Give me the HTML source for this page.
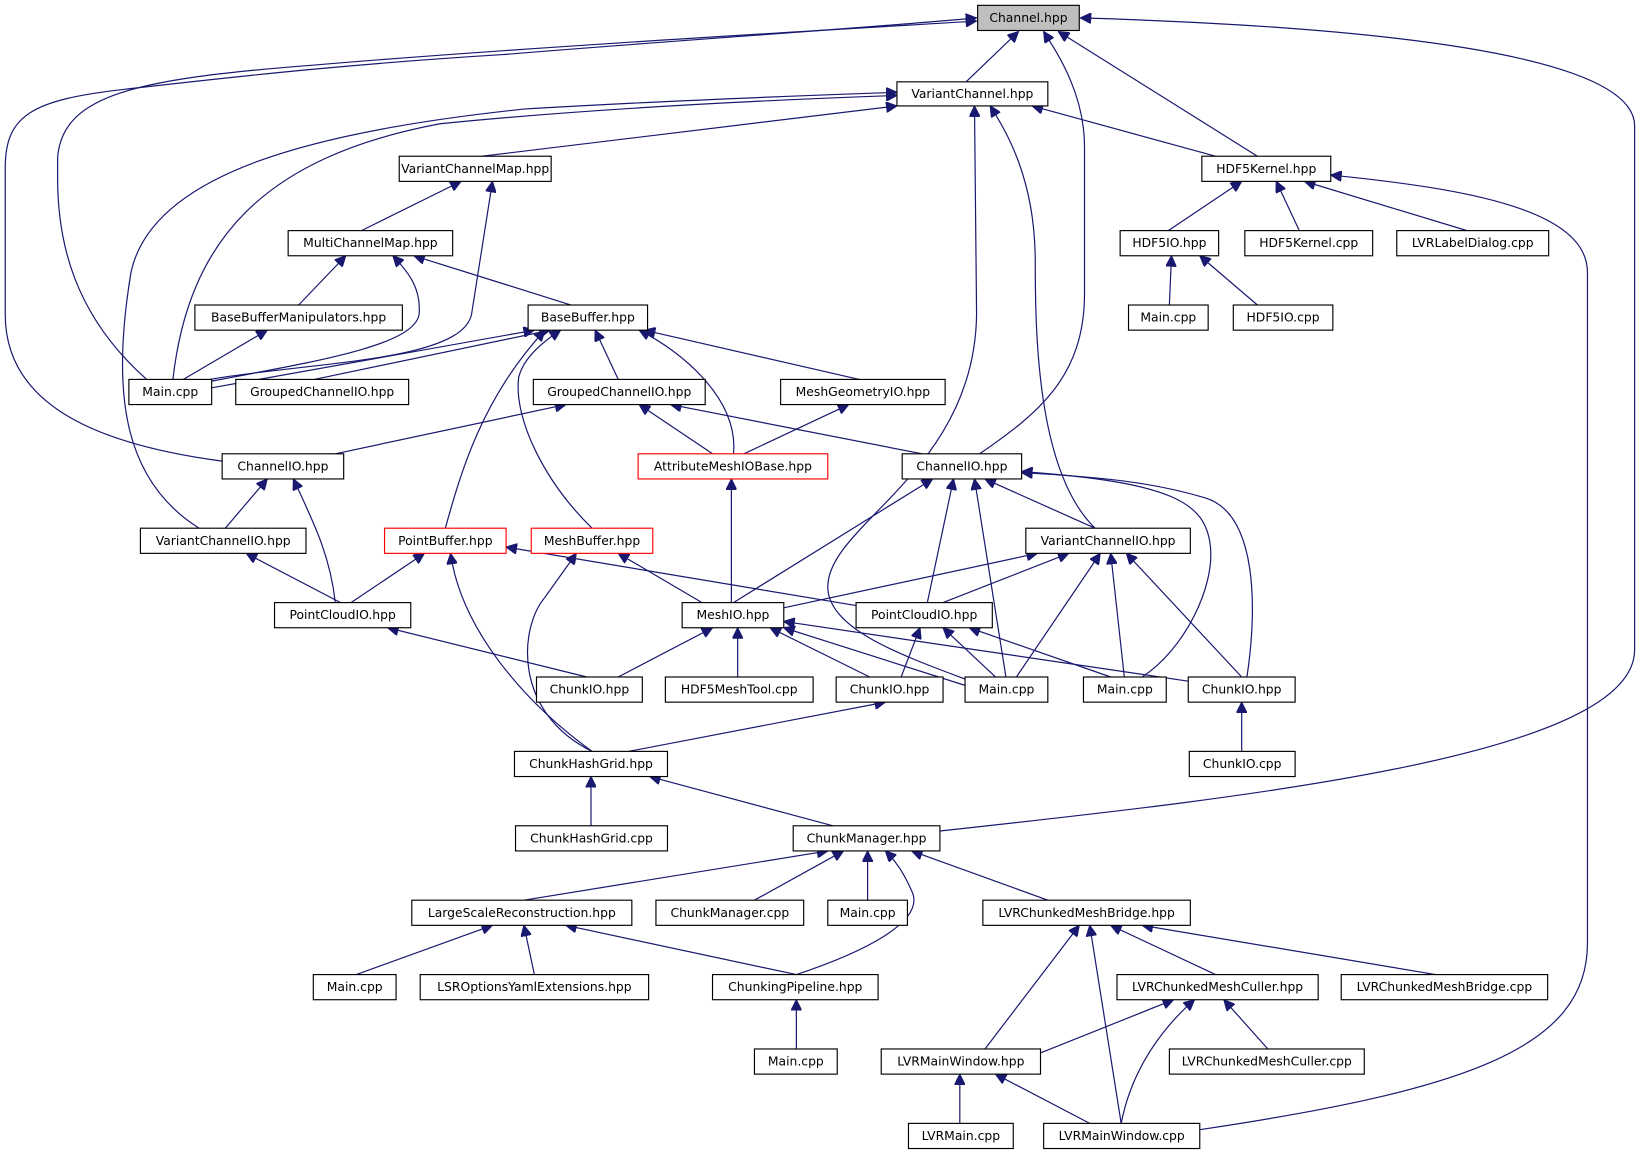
<!DOCTYPE html>
<html><head><meta charset="utf-8"><style>
html,body{margin:0;padding:0;background:#fff}
svg{display:block}
text{font-family:"DejaVu Sans","Liberation Sans",sans-serif;font-size:11.8px;fill:#000;text-anchor:middle;dominant-baseline:central}
.n{fill:#fff;stroke:#000;stroke-width:1.1}
.r{fill:#fff;stroke:#f00;stroke-width:1.1}
.e{fill:none;stroke:#191970;stroke-width:1.15;marker-end:url(#a)}
</style></head><body>
<svg width="1643" height="1157" viewBox="0 0 1568 1104" xmlns="http://www.w3.org/2000/svg">
<defs><marker id="a" viewBox="0 0 10 10" refX="10" refY="5" markerWidth="11" markerHeight="10" markerUnits="userSpaceOnUse" orient="auto"><path d="M0,0L10,5L0,10z" fill="#191970" stroke="#191970"/></marker></defs>
<g>
<path class="e" d="M922,78L972,30"/>
<path class="e" d="M1200,149L1010,30"/>
<path class="e" d="M935,433C990,395 1035,360 1035,280L1035,140C1035,90 1010,52 996,30"/>
<path class="e" d="M140,362C70,300 55,230 55,170L55,150C60,90 130,75 300,62C500,45 800,28 932,20"/>
<path class="e" d="M212,440C100,425 5,390 5,300L5,160C5,110 30,95 120,85C250,70 350,60 480,52C650,38 850,25 932,17"/>
<path class="e" d="M897,793C1200,760 1560,720 1560,620L1560,120C1560,50 1300,25 1031,17"/>
<path class="e" d="M1160,149L985,101"/>
<path class="e" d="M460,149L856,101"/>
<path class="e" d="M165,362C180,230 250,150 420,118C600,100 800,93 856,91"/>
<path class="e" d="M190,504C120,460 105,380 125,260C145,165 300,125 500,104C650,95 800,90 856,88"/>
<path class="e" d="M921,648C860,625 790,600 790,560C790,500 930,450 932,300L930,101"/>
<path class="e" d="M1045,504C990,450 988,320 988,250C988,170 960,125 945,101"/>
<path class="e" d="M345,220L440,173"/>
<path class="e" d="M200,362C300,345 440,345 450,300L470,173"/>
<path class="e" d="M1115,220L1185,173"/>
<path class="e" d="M1240,220L1218,173"/>
<path class="e" d="M1400,220L1245,173"/>
<path class="e" d="M1145,1078C1400,1040 1515,1000 1515,900L1515,260C1515,200 1400,180 1270,167"/>
<path class="e" d="M1116,291L1118,244"/>
<path class="e" d="M1200,291L1145,244"/>
<path class="e" d="M285,291L330,244"/>
<path class="e" d="M545,291L395,244"/>
<path class="e" d="M200,364C300,345 395,330 400,300C402,275 390,260 375,244"/>
<path class="e" d="M175,362L255,315"/>
<path class="e" d="M202,370L510,315"/>
<path class="e" d="M300,362L525,315"/>
<path class="e" d="M590,362L568,315"/>
<path class="e" d="M820,362L615,315"/>
<path class="e" d="M700,433C705,380 650,335 610,315"/>
<path class="e" d="M425,504C440,450 460,380 520,315"/>
<path class="e" d="M565,504C520,460 490,400 495,360C500,340 520,325 535,315"/>
<path class="e" d="M320,433L540,386"/>
<path class="e" d="M680,433L610,386"/>
<path class="e" d="M880,433L640,386"/>
<path class="e" d="M710,433L810,386"/>
<path class="e" d="M215,504L255,457"/>
<path class="e" d="M320,575C315,530 300,500 280,457"/>
<path class="e" d="M698,575L698,457"/>
<path class="e" d="M700,575L890,457"/>
<path class="e" d="M885,575L910,457"/>
<path class="e" d="M960,646L930,457"/>
<path class="e" d="M1045,504L940,457"/>
<path class="e" d="M1090,646C1130,620 1160,560 1155,520C1150,480 1120,460 975,450"/>
<path class="e" d="M1190,646C1200,580 1200,490 1150,475C1100,460 1050,455 975,451"/>
<path class="e" d="M325,575L235,528"/>
<path class="e" d="M335,575L405,528"/>
<path class="e" d="M565,717C500,670 440,600 430,528"/>
<path class="e" d="M830,580L483,522"/>
<path class="e" d="M670,575L590,528"/>
<path class="e" d="M565,717C490,680 495,600 520,570L550,528"/>
<path class="e" d="M748,580L990,528"/>
<path class="e" d="M900,575L1020,528"/>
<path class="e" d="M970,646L1050,528"/>
<path class="e" d="M1073,646L1060,528"/>
<path class="e" d="M1185,646L1075,528"/>
<path class="e" d="M560,646L370,599"/>
<path class="e" d="M590,646L680,599"/>
<path class="e" d="M704,646L704,599"/>
<path class="e" d="M830,646L735,599"/>
<path class="e" d="M921,654L748,599"/>
<path class="e" d="M1134,650L748,593"/>
<path class="e" d="M860,646L878,599"/>
<path class="e" d="M950,646L900,599"/>
<path class="e" d="M1060,646L925,599"/>
<path class="e" d="M1185,717L1185,670"/>
<path class="e" d="M600,717L845,670"/>
<path class="e" d="M564,788L564,741"/>
<path class="e" d="M795,788L620,741"/>
<path class="e" d="M500,859L790,812"/>
<path class="e" d="M720,859L805,812"/>
<path class="e" d="M828,859L828,812"/>
<path class="e" d="M760,930C820,910 885,880 870,850C862,832 855,822 845,812"/>
<path class="e" d="M1000,859L870,812"/>
<path class="e" d="M340,930L470,883"/>
<path class="e" d="M510,930L500,883"/>
<path class="e" d="M760,930L540,883"/>
<path class="e" d="M760,1001L760,954"/>
<path class="e" d="M1160,930L1060,883"/>
<path class="e" d="M1370,930L1090,883"/>
<path class="e" d="M940,1001L1030,883"/>
<path class="e" d="M1070,1072L1040,883"/>
<path class="e" d="M990,1006L1120,954"/>
<path class="e" d="M1210,1001L1168,954"/>
<path class="e" d="M1070,1072C1080,1020 1110,980 1140,954"/>
<path class="e" d="M916,1072L916,1025"/>
<path class="e" d="M1040,1072L950,1025"/>
</g>
<g>
<rect x="933" y="5" width="97" height="24" fill="#bfbfbf" stroke="#000" stroke-width="1.1"/><text x="981.5" y="17">Channel.hpp</text>
<rect class="n" x="856" y="78" width="144" height="23"/><text x="928" y="89.5">VariantChannel.hpp</text>
<rect class="n" x="381" y="149" width="145" height="24"/><text x="453.5" y="161">VariantChannelMap.hpp</text>
<rect class="n" x="1147" y="149" width="123" height="24"/><text x="1208.5" y="161">HDF5Kernel.hpp</text>
<rect class="n" x="275" y="220" width="157" height="24"/><text x="353.5" y="232">MultiChannelMap.hpp</text>
<rect class="n" x="1069" y="220" width="94" height="24"/><text x="1116" y="232">HDF5IO.hpp</text>
<rect class="n" x="1188" y="220" width="122" height="24"/><text x="1249" y="232">HDF5Kernel.cpp</text>
<rect class="n" x="1333" y="220" width="145" height="24"/><text x="1405.5" y="232">LVRLabelDialog.cpp</text>
<rect class="n" x="186" y="291" width="198" height="24"/><text x="285" y="303">BaseBufferManipulators.hpp</text>
<rect class="n" x="504" y="291" width="114" height="24"/><text x="561" y="303">BaseBuffer.hpp</text>
<rect class="n" x="1077" y="291" width="76" height="24"/><text x="1115" y="303">Main.cpp</text>
<rect class="n" x="1177" y="291" width="95" height="24"/><text x="1224.5" y="303">HDF5IO.cpp</text>
<rect class="n" x="123" y="362" width="79" height="24"/><text x="162.5" y="374">Main.cpp</text>
<rect class="n" x="225" y="362" width="165" height="24"/><text x="307.5" y="374">GroupedChannelIO.hpp</text>
<rect class="n" x="509" y="362" width="164" height="24"/><text x="591" y="374">GroupedChannelIO.hpp</text>
<rect class="n" x="745" y="362" width="157" height="24"/><text x="823.5" y="374">MeshGeometryIO.hpp</text>
<rect class="n" x="212" y="433" width="116" height="24"/><text x="270" y="445">ChannelIO.hpp</text>
<rect class="r" x="609" y="433" width="181" height="24"/><text x="699.5" y="445">AttributeMeshIOBase.hpp</text>
<rect class="n" x="861" y="433" width="114" height="24"/><text x="918" y="445">ChannelIO.hpp</text>
<rect class="n" x="134" y="504" width="158" height="24"/><text x="213" y="516">VariantChannelIO.hpp</text>
<rect class="r" x="367" y="504" width="116" height="24"/><text x="425" y="516">PointBuffer.hpp</text>
<rect class="r" x="507" y="504" width="116" height="24"/><text x="565" y="516">MeshBuffer.hpp</text>
<rect class="n" x="979" y="504" width="157" height="24"/><text x="1057.5" y="516">VariantChannelIO.hpp</text>
<rect class="n" x="262" y="575" width="130" height="24"/><text x="327" y="587">PointCloudIO.hpp</text>
<rect class="n" x="651" y="575" width="97" height="24"/><text x="699.5" y="587">MeshIO.hpp</text>
<rect class="n" x="817" y="575" width="130" height="24"/><text x="882" y="587">PointCloudIO.hpp</text>
<rect class="n" x="512" y="646" width="101" height="24"/><text x="562.5" y="658">ChunkIO.hpp</text>
<rect class="n" x="635" y="646" width="141" height="24"/><text x="705.5" y="658">HDF5MeshTool.cpp</text>
<rect class="n" x="798" y="646" width="102" height="24"/><text x="849" y="658">ChunkIO.hpp</text>
<rect class="n" x="921" y="646" width="79" height="24"/><text x="960.5" y="658">Main.cpp</text>
<rect class="n" x="1034" y="646" width="79" height="24"/><text x="1073.5" y="658">Main.cpp</text>
<rect class="n" x="1134" y="646" width="102" height="24"/><text x="1185" y="658">ChunkIO.hpp</text>
<rect class="n" x="491" y="717" width="146" height="24"/><text x="564" y="729">ChunkHashGrid.hpp</text>
<rect class="n" x="1135" y="717" width="101" height="24"/><text x="1185.5" y="729">ChunkIO.cpp</text>
<rect class="n" x="492" y="788" width="145" height="24"/><text x="564.5" y="800">ChunkHashGrid.cpp</text>
<rect class="n" x="757" y="788" width="140" height="24"/><text x="827" y="800">ChunkManager.hpp</text>
<rect class="n" x="393" y="859" width="210" height="24"/><text x="498" y="871">LargeScaleReconstruction.hpp</text>
<rect class="n" x="626" y="859" width="141" height="24"/><text x="696.5" y="871">ChunkManager.cpp</text>
<rect class="n" x="790" y="859" width="76" height="24"/><text x="828" y="871">Main.cpp</text>
<rect class="n" x="938" y="859" width="198" height="24"/><text x="1037" y="871">LVRChunkedMeshBridge.hpp</text>
<rect class="n" x="299" y="930" width="79" height="24"/><text x="338.5" y="942">Main.cpp</text>
<rect class="n" x="401" y="930" width="218" height="24"/><text x="510" y="942">LSROptionsYamlExtensions.hpp</text>
<rect class="n" x="680" y="930" width="158" height="24"/><text x="759" y="942">ChunkingPipeline.hpp</text>
<rect class="n" x="1066" y="930" width="192" height="24"/><text x="1162" y="942">LVRChunkedMeshCuller.hpp</text>
<rect class="n" x="1280" y="930" width="197" height="24"/><text x="1378.5" y="942">LVRChunkedMeshBridge.cpp</text>
<rect class="n" x="720" y="1001" width="79" height="24"/><text x="759.5" y="1013">Main.cpp</text>
<rect class="n" x="841" y="1001" width="152" height="24"/><text x="917" y="1013">LVRMainWindow.hpp</text>
<rect class="n" x="1116" y="1001" width="186" height="24"/><text x="1209" y="1013">LVRChunkedMeshCuller.cpp</text>
<rect class="n" x="867" y="1072" width="100" height="24"/><text x="917" y="1084">LVRMain.cpp</text>
<rect class="n" x="996" y="1072" width="149" height="24"/><text x="1070.5" y="1084">LVRMainWindow.cpp</text>
</g>
</svg>
</body></html>
